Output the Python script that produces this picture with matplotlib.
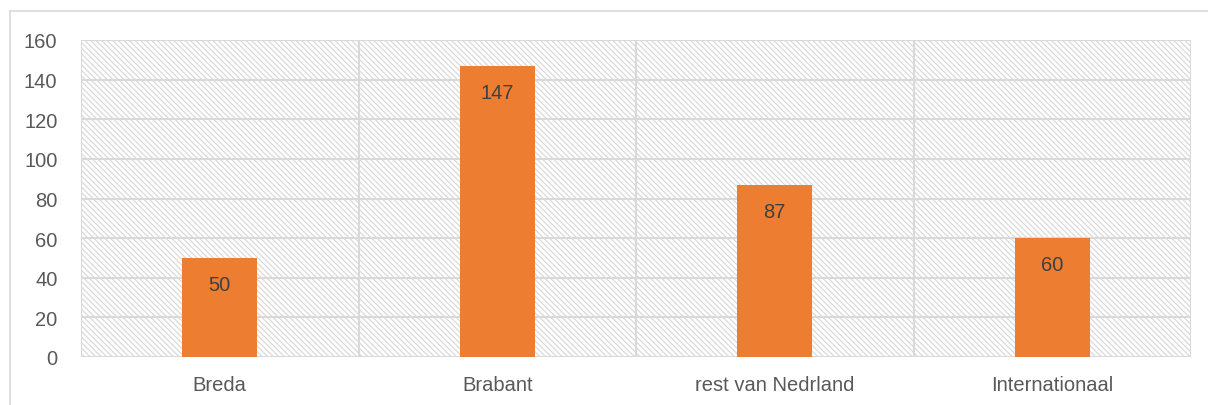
import matplotlib.pyplot as plt
import matplotlib.patches as mpatches
from matplotlib.lines import Line2D

categories = ["Breda", "Brabant", "rest van Nedrland", "Internationaal"]
values = [50, 147, 87, 60]
y_ticks = [0, 20, 40, 60, 80, 100, 120, 140, 160]

BAR_COLOR = "#ED7D31"
GRID_COLOR = "#d9d9d9"
HATCH_COLOR = "#dadada"

plt.rcParams["font.family"] = ["Liberation Sans", "DejaVu Sans"]
plt.rcParams["hatch.color"] = HATCH_COLOR
plt.rcParams["hatch.linewidth"] = 0.9

W, H = 1208, 406
fig = plt.figure(figsize=(W / 100, H / 100), dpi=100)
fig.patch.set_facecolor("white")

# outer chart frame (cut off at right and bottom in the source)
fig.add_artist(Line2D([10 / W, 1.0], [1 - 12 / H, 1 - 12 / H], transform=fig.transFigure,
                      color=GRID_COLOR, lw=1.2))
fig.add_artist(Line2D([10 / W, 10 / W], [0.0, 1 - 12 / H], transform=fig.transFigure,
                      color=GRID_COLOR, lw=1.2))

left, right, top, bottom = 81, 1191, 41, 358
ax = fig.add_axes([left / W, 1 - bottom / H, (right - left) / W, (bottom - top) / H])
ax.set_facecolor("white")

# hatched plot-area background
bg = mpatches.Rectangle((0, 0), 1, 1, transform=ax.transAxes, facecolor="white",
                        edgecolor=HATCH_COLOR, hatch="\\" * 6, linewidth=0, zorder=0)
ax.add_patch(bg)

x = range(len(categories))
bars = ax.bar(x, values, width=0.27, color=BAR_COLOR, zorder=3)

for b, v in zip(bars, values):
    ax.annotate(str(v), (b.get_x() + b.get_width() / 2, v), xytext=(0, -19),
                textcoords="offset points", ha="center", va="center",
                fontsize=14.5, color="#404040", zorder=4)

ax.set_xlim(-0.5, len(categories) - 0.5)
ax.set_ylim(0, 160)
ax.set_yticks(y_ticks)
ax.set_xticks(list(x))
ax.set_xticklabels(categories)

# gridlines: horizontal at ticks, vertical between categories
for yv in y_ticks:
    ax.axhline(yv, color=GRID_COLOR, lw=1.5, zorder=1)
for xv in [i - 0.5 for i in range(len(categories) + 1)]:
    ax.axvline(xv, color=GRID_COLOR, lw=1.5, zorder=1)

for s in ax.spines.values():
    s.set_visible(False)

ax.tick_params(axis="both", length=0, labelsize=14.5, labelcolor="#595959")
ax.tick_params(axis="y", pad=17)
ax.tick_params(axis="x", pad=13)

fig.savefig("out.png", dpi=100, facecolor="white")
